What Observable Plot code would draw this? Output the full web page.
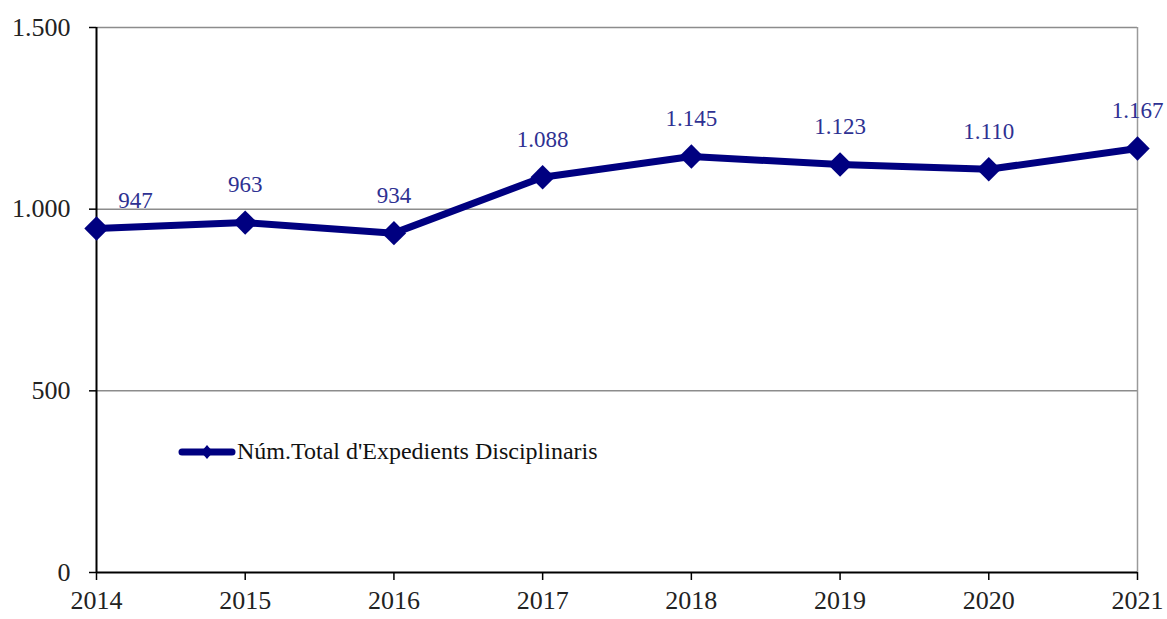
<!DOCTYPE html>
<html>
<head>
<meta charset="utf-8">
<script src="https://cdn.jsdelivr.net/npm/d3@7"></script>
<script src="https://cdn.jsdelivr.net/npm/@observablehq/plot@0.6"></script>
<style>
  html, body { margin: 0; padding: 0; background: #fff; }
  #wrap { position: relative; width: 1167px; height: 619px; }
  #legend { position: absolute; left: 178px; top: 438px; display: flex; align-items: center;
    font-family: "Liberation Serif", "DejaVu Serif", serif; font-size: 24px; color: #111; }
  #legend svg { margin-right: 1px; }
</style>
</head>
<body>
<div id="wrap">
  <div id="legend"></div>
</div>
<script>
const years = [2014, 2015, 2016, 2017, 2018, 2019, 2020, 2021];
const values = [947, 963, 934, 1088, 1145, 1123, 1110, 1167];
const yTicks = [0, 500, 1000, 1500];
const seriesName = "Núm.Total d'Expedients Disciplinaris";

const data = years.map((y, i) => ({year: y, value: values[i]}));
const fmt = d3.formatLocale({thousands: ".", grouping: [3], decimal: ",", currency: ["", "€"]}).format(",");

const navy = "#000080";
const labelColor = "#2E3192";

const chart = Plot.plot({
  width: 1167,
  height: 619,
  marginLeft: 96,
  marginRight: 30,
  marginTop: 27,
  marginBottom: 47,
  x: {domain: [2014, 2021]},
  y: {domain: [0, 1500]},
  style: {fontFamily: "Liberation Serif, DejaVu Serif, serif", fontSize: "26px", background: "white", color: "#222"},
  marks: [
    Plot.gridY(yTicks.filter(d => d > 0), {stroke: "#8c8c8c", strokeOpacity: 1, strokeWidth: 1.5}),
    Plot.ruleX([2021], {stroke: "#9a9a9a", strokeWidth: 1.5}),
    Plot.axisY({ticks: yTicks, tickFormat: fmt, tickSize: 7, tickPadding: 19, stroke: "black", strokeWidth: 1.5, fill: "#222", fontSize: 26, label: null}),
    Plot.axisX({ticks: years, tickFormat: "d", tickSize: 8, tickPadding: 10, stroke: "black", strokeWidth: 1.5, fill: "#222", fontSize: 26, label: null}),
    Plot.ruleX([2014], {stroke: "black", strokeWidth: 2}),
    Plot.ruleY([0], {stroke: "black", strokeWidth: 2}),
    Plot.line(data, {x: "year", y: "value", stroke: navy, strokeWidth: 7, strokeLinejoin: "round", strokeLinecap: "round"}),
    Plot.dot(data, {x: "year", y: "value", symbol: "diamond2", r: 11, fill: navy, stroke: "none"}),
    Plot.text(data.slice(0, 1), {x: "year", y: "value", text: d => fmt(d.value), dx: 39, dy: -28, fill: labelColor, fontSize: 23}),
    Plot.text(data.slice(1), {x: "year", y: "value", text: d => fmt(d.value), dy: -38, fill: labelColor, fontSize: 23})
  ]
});
const wrap = document.getElementById("wrap");
wrap.insertBefore(chart, wrap.firstChild);

const legend = document.getElementById("legend");
legend.innerHTML = `<svg width="58" height="20"><line x1="4" y1="10" x2="54" y2="10" stroke="${navy}" stroke-width="7" stroke-linecap="round"/><path d="M29,3 L35,10 L29,17 L23,10 Z" fill="${navy}"/></svg><span></span>`;
legend.querySelector("span").textContent = seriesName;
</script>
</body>
</html>
